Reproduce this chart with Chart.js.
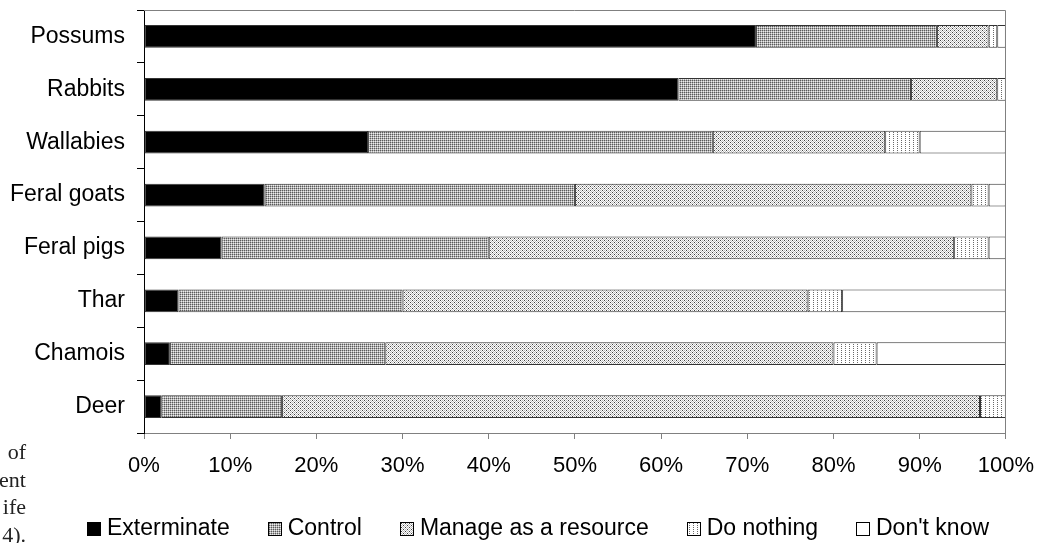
<!DOCTYPE html>
<html>
<head>
<meta charset="utf-8">
<script src="https://cdn.jsdelivr.net/npm/chart.js@4.4.1/dist/chart.umd.min.js"></script>
<style>
  html, body { margin: 0; padding: 0; background: #fff; overflow: hidden; }
  #wrap { position: relative; width: 1048px; height: 543px; overflow: hidden; }
  #chart { position: absolute; left: 0; top: 0; }
  #legend {
    position: absolute; left: 87px; top: 514px; display: flex;
    font: 23px 'Liberation Sans', Arial, sans-serif; line-height: 26px;
    color: #000; white-space: nowrap;
  }
  #legend .item { margin-right: 38px; }
  #legend .sw {
    display: inline-block; width: 12px; height: 12px; border: 1px solid #000;
    margin-right: 6px; vertical-align: -1px; background-repeat: repeat;
  }
  #side {
    position: absolute; left: -200px; width: 226px; top: 438px;
    font: 22px 'Liberation Serif', 'Times New Roman', serif; line-height: 27.5px;
    text-align: right; color: #222; white-space: nowrap;
  }
</style>
</head>
<body>
<div id="wrap">
  <canvas id="chart" width="1048" height="543"></canvas>
  <div id="side">of<br>ent<br>ife<br>4).</div>
  <div id="legend"></div>
</div>
<script>
// Attitudes toward each introduced animal (% of respondents)
const categories = ['Possums', 'Rabbits', 'Wallabies', 'Feral goats', 'Feral pigs', 'Thar', 'Chamois', 'Deer'];
const seriesNames = ['Exterminate', 'Control', 'Manage as a resource', 'Do nothing', "Don't know"];
const exterminate      = [71, 62, 26, 14,  9,  4,  3,  2];
const control          = [21, 27, 40, 36, 31, 26, 25, 14];
const manageAsResource = [ 6, 10, 20, 46, 54, 47, 52, 81];
const doNothing        = [ 1,  1,  4,  2,  4,  4,  5,  3];
const dontKnow         = [ 1,  0, 10,  2,  2, 19, 15,  0];
const tickLabels = ['0%', '10%', '20%', '30%', '40%', '50%', '60%', '70%', '80%', '90%', '100%'];

// Small pixel tiles used as hatch fills
function makeTile(w, h, paint) {
  const c = document.createElement('canvas');
  c.width = w; c.height = h;
  const g = c.getContext('2d');
  for (let y = 0; y < h; y++) {
    for (let x = 0; x < w; x++) {
      g.fillStyle = paint(x, y);
      g.fillRect(x, y, 1, 1);
    }
  }
  return c;
}

const tiles = [
  makeTile(2, 2, () => '#000000'),
  makeTile(4, 4, (x, y) => {
    if (x % 2 === 0 && y % 2 === 0) return '#5a5a5a';
    if (x % 2 === 0 || y % 2 === 0) return '#b0b0b0';
    return '#ececec';
  }),
  makeTile(4, 4, (x, y) => {
    if ((x === 0 && y === 0) || (x === 2 && y === 2)) return '#404040';
    return (x + y) % 2 === 0 ? '#bdbdbd' : '#ffffff';
  }),
  makeTile(4, 2, (x, y) => (x === 1 && y === 0) ? '#6a6a6a' : '#ffffff'),
  makeTile(2, 2, () => '#ffffff')
];

const canvas = document.getElementById('chart');
const ctx = canvas.getContext('2d');
const fills = tiles.map(t => ctx.createPattern(t, 'repeat'));
fills[0] = '#000000';
fills[4] = '#ffffff';

const values = [exterminate, control, manageAsResource, doNothing, dontKnow];

const datasets = seriesNames.map((name, i) => ({
  label: name,
  data: values[i],
  backgroundColor: fills[i],
  borderColor: '#333333',
  borderWidth: 1,
  borderSkipped: false,
  categoryPercentage: 1,
  barPercentage: 0.43
}));

// Frame along the top and right of the plot area
const plotFrame = {
  id: 'plotFrame',
  afterDatasetsDraw(chart) {
    const a = chart.chartArea;
    const c = chart.ctx;
    c.save();
    c.strokeStyle = '#808080';
    c.lineWidth = 1;
    c.beginPath();
    c.moveTo(Math.round(a.left), Math.round(a.top) + 0.5);
    c.lineTo(Math.round(a.right) - 0.5, Math.round(a.top) + 0.5);
    c.lineTo(Math.round(a.right) - 0.5, Math.round(a.bottom));
    c.stroke();
    c.restore();
  }
};

const chart = new Chart(canvas, {
  type: 'bar',
  data: { labels: categories, datasets },
  plugins: [plotFrame],
  options: {
    indexAxis: 'y',
    responsive: false,
    devicePixelRatio: 1,
    animation: false,
    layout: { padding: { left: 0, right: 42, top: 10, bottom: 0 } },
    plugins: { legend: { display: false }, tooltip: { enabled: false } },
    scales: {
      x: {
        stacked: true,
        min: 0,
        max: 100,
        afterFit: s => { s.height = 110; },
        ticks: {
          stepSize: 10,
          padding: 14,
          color: '#000',
          font: { family: "'Liberation Sans', Arial, sans-serif", size: 22 },
          callback: (v, i) => tickLabels[i]
        },
        grid: { drawOnChartArea: false, drawTicks: true, tickLength: 6, color: '#808080' },
        border: { color: '#808080' }
      },
      y: {
        stacked: true,
        afterFit: s => { s.width = 144; s.paddingTop = 0; s.paddingBottom = 0; },
        ticks: {
          padding: 12,
          color: '#000',
          font: { family: "'Liberation Sans', Arial, sans-serif", size: 23 }
        },
        grid: { drawOnChartArea: false, drawTicks: true, tickLength: 7, color: '#000' },
        border: { color: '#000' }
      }
    }
  }
});

// Legend row built from the chart's datasets
const legend = document.getElementById('legend');
chart.data.datasets.forEach((ds, i) => {
  const item = document.createElement('span');
  item.className = 'item';
  const sw = document.createElement('span');
  sw.className = 'sw';
  sw.style.backgroundImage = 'url(' + tiles[i].toDataURL() + ')';
  item.appendChild(sw);
  item.appendChild(document.createTextNode(ds.label));
  legend.appendChild(item);
});
</script>
</body>
</html>
